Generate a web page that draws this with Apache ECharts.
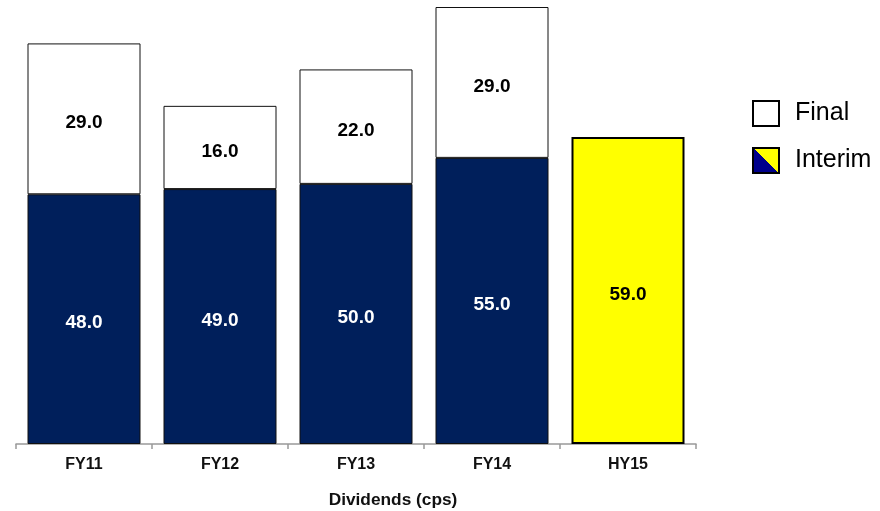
<!DOCTYPE html>
<html>
<head>
<meta charset="utf-8">
<script src="https://cdn.jsdelivr.net/npm/echarts@6/dist/echarts.min.js"></script>
<style>
  html, body { margin: 0; padding: 0; background: #fff; }
  #chart { width: 880px; height: 511px; }
</style>
</head>
<body>
<div id="chart"></div>
<script>
// Dividend per share, cents
const categories = ['FY11', 'FY12', 'FY13', 'FY14', 'HY15'];
const interimValues = [48.0, 49.0, 50.0, 55.0, 59.0];
const finalValues = [29.0, 16.0, 22.0, 29.0, null];
const axisTitle = 'Dividends (cps)';

const NAVY = '#001F5B';
const YELLOW = '#FFFF00';
const FONT = 'Arial, "Liberation Sans", Helvetica, sans-serif';

// Half-year bar is highlighted in yellow
const interimData = interimValues.map((v, i) => {
  const isHalfYear = categories[i].startsWith('HY');
  return {
    value: v,
    itemStyle: isHalfYear
      ? { color: YELLOW, borderColor: '#000', borderWidth: 2 }
      : { color: NAVY, borderColor: '#111', borderWidth: 1 },
    label: { color: isHalfYear ? '#000' : '#fff' }
  };
});

const valueLabel = {
  show: true, position: 'inside', offset: [0, 4],
  fontFamily: FONT, fontWeight: 'bold', fontSize: 19
};

const chart = echarts.init(document.getElementById('chart'), null, { renderer: 'canvas' });

chart.setOption({
  animation: false,
  backgroundColor: '#fff',
  grid: { left: 16, width: 680, top: 7, bottom: 67, containLabel: false },
  xAxis: {
    type: 'category',
    data: categories,
    boundaryGap: true,
    axisLine: { lineStyle: { color: '#999', width: 1.5 } },
    axisTick: { show: true, length: 5, lineStyle: { color: '#999', width: 1.5 } },
    axisLabel: {
      color: '#111', fontFamily: FONT, fontWeight: 'bold', fontSize: 16, margin: 13
    }
  },
  yAxis: {
    type: 'value', min: 0, max: 84,
    show: false,
    splitLine: { show: false }
  },
  legend: {
    orient: 'vertical',
    left: 752, top: 100,
    padding: 0,
    itemWidth: 26, itemHeight: 25, itemGap: 20,
    icon: 'rect',
    textStyle: { fontFamily: FONT, fontSize: 25, color: '#000', padding: [0, 0, 0, 11] },
    data: [
      { name: 'Final', itemStyle: { color: '#fff', borderColor: '#000', borderWidth: 2 } },
      {
        name: 'Interim',
        itemStyle: {
          color: {
            type: 'linear', x: 0, y: 1, x2: 1, y2: 0,
            colorStops: [
              { offset: 0, color: '#00008B' },
              { offset: 0.5, color: '#00008B' },
              { offset: 0.5, color: YELLOW },
              { offset: 1, color: YELLOW }
            ]
          },
          borderColor: '#000', borderWidth: 2
        }
      }
    ]
  },
  graphic: [{
    type: 'text',
    x: 393, y: 501,
    scaleX: 1.08,
    style: {
      text: axisTitle, font: 'bold 16px ' + FONT, fill: '#111',
      align: 'center', verticalAlign: 'middle'
    }
  }],
  series: [
    {
      name: 'Interim',
      type: 'bar',
      stack: 'dps',
      barWidth: 113,
      data: interimData,
      label: Object.assign({}, valueLabel, {
        formatter: p => p.value.toFixed(1)
      })
    },
    {
      name: 'Final',
      type: 'bar',
      stack: 'dps',
      barWidth: 113,
      data: finalValues,
      itemStyle: { color: '#fff', borderColor: '#111', borderWidth: 1 },
      label: Object.assign({}, valueLabel, {
        color: '#000',
        formatter: p => (p.value == null ? '' : p.value.toFixed(1))
      })
    }
  ]
});
</script>
</body>
</html>
